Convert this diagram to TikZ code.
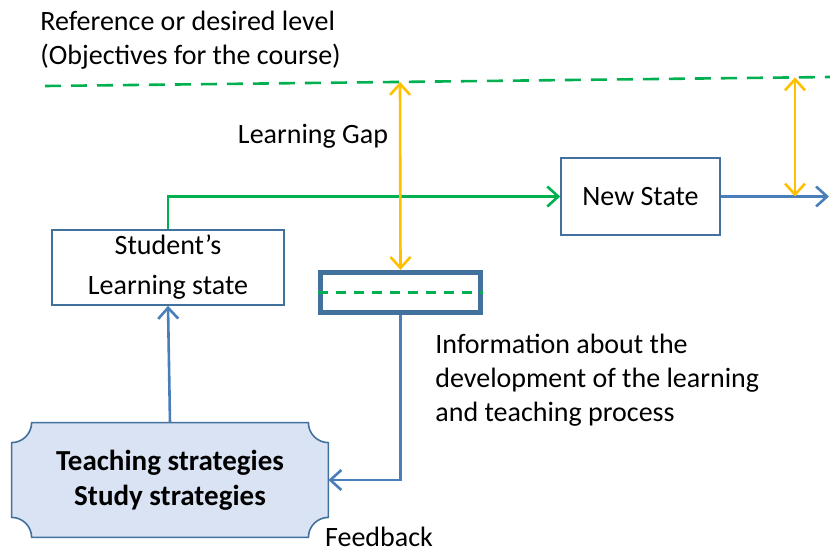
\documentclass[tikz,border=0pt]{standalone}
\usepackage{fontspec}
\setmainfont{Carlito}
\usetikzlibrary{arrows.meta,backgrounds,calc}
\definecolor{refgreen}{HTML}{00B050}
\definecolor{gaporange}{HTML}{FFC000}
\definecolor{flowblue}{HTML}{4A7EBB}
\definecolor{boxblue}{HTML}{41719C}
\definecolor{teachfill}{HTML}{DAE3F3}

\begin{document}
\begin{tikzpicture}[x=0.5pt,y=0.5pt,>={Straight Barb[length=5.5pt,width=10pt]},
    font=\fontsize{14}{17}\selectfont,
    txt/.style={inner sep=0pt,align=left},
    statebox/.style={draw=boxblue,line width=0.8pt,inner sep=0pt,align=center},
    flow/.style={flowblue,line width=1.3pt},
    goal/.style={refgreen,line width=1.3pt},
    gap/.style={gaporange,line width=1.3pt,<->}]
    \useasboundingbox (0,0) rectangle (830,554);

    % texts
    \node[txt,anchor=west] (ref)  at (40,514)  {Reference or desired level\\(Objectives for the course)};
    \node[txt]             (lgap) at (313,418) {Learning Gap};
    \node[txt,anchor=west] (info) at (435,174) {Information about the\\development of the learning\\and teaching process};
    \node[txt]             (fb)   at (379,17)  {Feedback};

    % boxes
    \node[statebox,minimum width=116pt,minimum height=37.5pt] (student)  at (168,286.5) {Student’s\\[3pt]Learning state};
    \node[statebox,minimum width=79.5pt,minimum height=38.5pt] (newstate) at (640.5,357.5) {New State};
    \node[draw=boxblue,line width=2.6pt,minimum width=80pt,minimum height=20pt,inner sep=0pt] (infobox) at (400.5,261.5) {};
    \node[inner sep=0pt,minimum width=158pt,minimum height=57pt,align=center,font=\fontsize{14.5}{17.5}\selectfont\bfseries] (teach) at (170,74) {Teaching strategies\\Study strategies};
    \begin{scope}[on background layer]
    \draw[boxblue,line width=0.8pt,fill=teachfill]
        ([xshift=10pt]teach.north west) -- ([xshift=-10pt]teach.north east)
        arc[start angle=180,end angle=270,radius=10pt] -- ([yshift=10pt]teach.south east)
        arc[start angle=90,end angle=180,radius=10pt] -- ([xshift=10pt]teach.south west)
        arc[start angle=0,end angle=90,radius=10pt] -- ([yshift=-10pt]teach.north west)
        arc[start angle=270,end angle=360,radius=10pt] -- cycle;
    \end{scope}

    % reference level
    \coordinate (refL) at (45,468);
    \coordinate (refR) at (830,477);
    \coordinate (gapA) at (400,472.1);
    \coordinate (gapB) at (795,476.6);
    \coordinate (out)  at (829,357.5);
    \draw[goal,dashed,dash pattern=on 8pt off 5pt] (refL) -- (refR);
    \draw[goal,dashed,dash pattern=on 5pt off 4pt] (infobox.west) -- (infobox.east);

    % connectors
    \draw[goal,->]  (student.north) |- (newstate.west);
    \draw[flow,->]  (newstate.east) -- (out);
    \draw[flow,->]  (teach.north) -- (student.south);
    \draw[flow,->]  (infobox.south) |- (teach.east);
    \draw[gap]      (gapA) -- (infobox.north);
    \draw[gap]      (gapB) -- (gapB |- newstate.east);
\end{tikzpicture}
\end{document}
